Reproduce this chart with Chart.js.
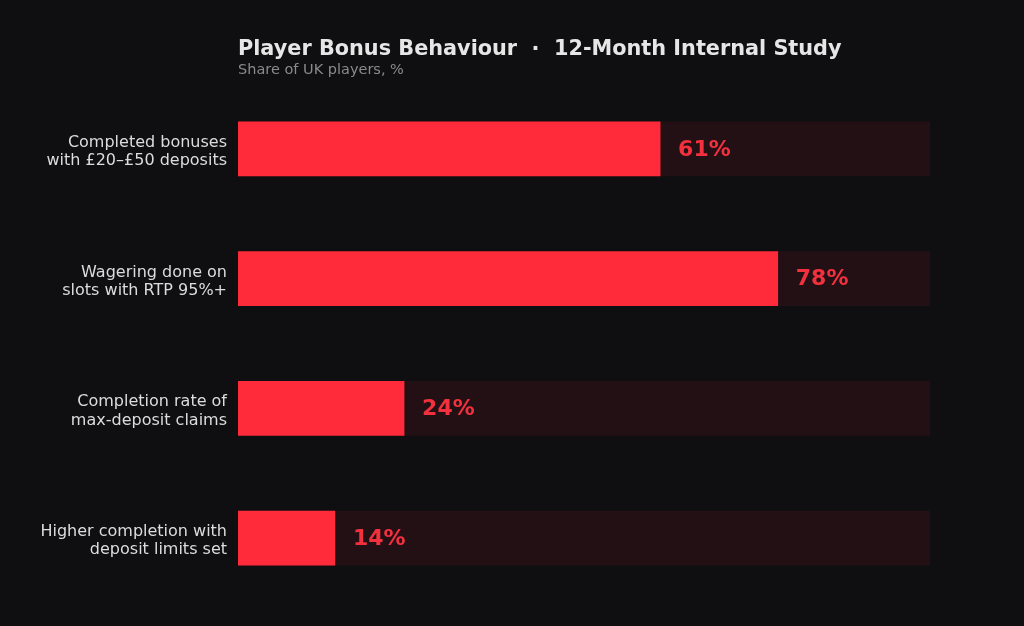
<!DOCTYPE html>
<html>
<head>
<meta charset="utf-8">
<script src="https://cdn.jsdelivr.net/npm/chart.js@4/dist/chart.umd.min.js"></script>
<style>
  html, body { margin: 0; padding: 0; background: #0f0f11; }
  #wrap { width: 1024px; height: 626px; }
</style>
</head>
<body>
<div id="wrap"><canvas id="bonusChart" width="1024" height="626"></canvas></div>
<script>
// Chart data
const categories = [
  ['Completed bonuses', 'with £20–£50 deposits'],
  ['Wagering done on', 'slots with RTP 95%+'],
  ['Completion rate of', 'max-deposit claims'],
  ['Higher completion with', 'deposit limits set']
];
const shares = [61, 78, 24, 14];
const trackValues = [100, 100, 100, 100];

const titleText = 'Player Bonus Behaviour  ·  12-Month Internal Study';
const subtitleText = 'Share of UK players, %';

//Draw title, subtitle and value labels
const annotatePlugin = {
  id: 'annotate',
  afterDatasetsDraw(chart) {
    const ctx = chart.ctx;
    const left = chart.chartArea.left;
    ctx.save();
    ctx.textBaseline = 'alphabetic';
    ctx.textAlign = 'left';
    ctx.fillStyle = '#e6e6e6';
    ctx.font = 'bold 20.8px "DejaVu Sans"';
    ctx.fillText(titleText, left, 54.5);
    ctx.fillStyle = '#8a8a8a';
    ctx.font = '14.5px "DejaVu Sans"';
    ctx.fillText(subtitleText, left, 73.5);

    // value labels at the end of each bar
    const meta = chart.getDatasetMeta(0);
    ctx.fillStyle = '#f2303e';
    ctx.font = 'bold 22px "DejaVu Sans"';
    ctx.textBaseline = 'middle';
    meta.data.forEach((bar, i) => {
      ctx.fillText(shares[i] + '%', bar.x + 18, bar.y + 1);
    });
    ctx.restore();
  }
};

function createChart() {
  const chartContext = document.getElementById('bonusChart').getContext('2d');

  /* global Chart */
  return new Chart(chartContext, {
    type: 'bar',
    data: {
      labels: categories,
      datasets: [
        {
          data: shares,
          backgroundColor: '#ff2a3a',
          borderWidth: 0,
          barThickness: 54,
          grouped: false
        },
        {
          data: trackValues,
          backgroundColor: '#231014',
          borderWidth: 0,
          barThickness: 54,
          grouped: false
        }
      ]
    },
    options: {
      indexAxis: 'y',
      responsive: false,
      animation: false,
      layout: { padding: { left: 0, right: 94, top: 84, bottom: 23 } },
      scales: {
        x: { display: false, min: 0, max: 100 },
        y: {
          grid: { display: false, drawTicks: false },
          border: { display: false },
          ticks: {
            color: '#dcdcdc',
            font: { family: 'DejaVu Sans', size: 16, lineHeight: 1.15 },
            padding: 11,
            labelOffset: 3
          },
          afterFit(scale) {
            scale.width = 238;
            scale.paddingTop = 0;
            scale.paddingBottom = 0;
          }
        }
      },
      plugins: {
        legend: { display: false },
        tooltip: { enabled: false }
      }
    },
    plugins: [annotatePlugin]
  });
}

createChart();
</script>
</body>
</html>
